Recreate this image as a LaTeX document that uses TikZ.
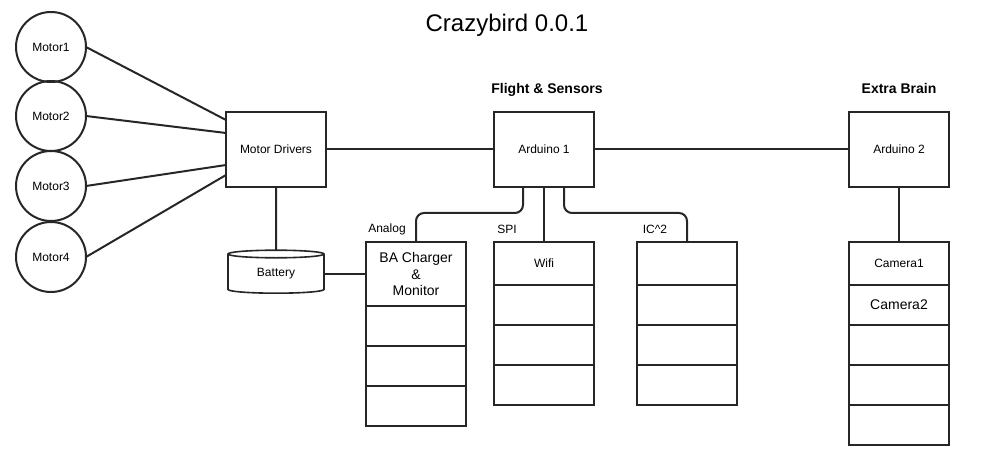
\documentclass[tikz,border=0pt]{standalone}
\usepackage{fontspec}
\setmainfont{Liberation Sans}
\usetikzlibrary{shapes.geometric}
\tikzset{
  box/.style={draw=black!85, line width=2pt, rectangle, minimum width=100pt, minimum height=75pt, inner sep=0pt, outer sep=0pt, font=\fontsize{12}{14}\selectfont},
  slot/.style={box, anchor=north, minimum height=40pt},
  motor/.style={draw=black!85, line width=2pt, circle, minimum size=70pt, inner sep=0pt, outer sep=0pt, font=\fontsize{12}{14}\selectfont},
  batt/.style={draw=black!85, line width=1.6pt, cylinder, shape border rotate=90, aspect=0.2, minimum width=96pt, minimum height=43pt, inner sep=0pt, outer sep=0pt, font=\fontsize{12}{14}\selectfont},
  wire/.style={draw=black!85, line width=2pt},
  head/.style={anchor=base, font=\bfseries\fontsize{14}{16}\selectfont},
  bus/.style={font=\fontsize{12}{14}\selectfont}
}
\begin{document}
\begin{tikzpicture}[x=1pt,y=-1pt]
      \useasboundingbox (0,0) rectangle (985,465);
      \node[font=\fontsize{24}{28}\selectfont] (title) at (507,25) {Crazybird 0.0.1};
      \node[head] (flight) at (547,94) {Flight \& Sensors};
      \node[head] (extra) at (899,94) {Extra Brain};

      \foreach \i/\y in {1/47,2/116,3/186,4/257}
        \node[motor] (m\i) at (51,\y) {Motor\i};

      \node[box] (drv) at (276,149.5) {Motor Drivers};
      \node[box] (ard1) at (544,149.5) {Arduino 1};
      \node[box] (ard2) at (899,149.5) {Arduino 2};
      \node[batt] (batt) at (276,274) {Battery};

      \node[slot, minimum height=64pt, align=center, font=\fontsize{14}{16.5}\selectfont] (bac1) at (416,242) {BA Charger\\\&\\Monitor};
      \foreach \i/\y in {2/306,3/346,4/386}
        \node[slot] (bac\i) at (416,\y) {};
      \node[slot, minimum height=43pt] (wifi1) at (544,242) {Wifi};
      \node[slot, minimum height=43pt] (ic1) at (687,242) {};
      \foreach \i/\y in {2/285,3/325,4/365} {
        \node[slot] (wifi\i) at (544,\y) {};
        \node[slot] (ic\i) at (687,\y) {};
      }
      \node[slot, minimum height=43pt] (cam1) at (899,242) {Camera1};
      \node[slot, font=\fontsize{14}{16}\selectfont] (cam2) at (899,285) {Camera2};
      \foreach \i/\y in {3/325,4/365,5/405}
        \node[slot] (cam\i) at (899,\y) {};

      \node[bus] (analog) at (387,229) {Analog};
      \node[bus] (spi) at (507,229) {SPI};
      \node[bus] (ic) at (655,229) {IC\^{}2};

      \draw[wire] (m1.east) -- ([yshift=29.5pt]drv.west);
      \draw[wire] (m2.east) -- ([yshift=16.5pt]drv.west);
      \draw[wire] (m3.east) -- ([yshift=-15.5pt]drv.west);
      \draw[wire] (m4.east) -- ([yshift=-25.5pt]drv.west);
      \draw[wire] (drv.east) -- (ard1.west);
      \draw[wire] (ard1.east) -- (ard2.west);
      \draw[wire] (drv.south) -- (batt.north);
      \draw[wire] (batt.east) -- (batt.east -| bac1.west);
      \draw[wire, rounded corners=8pt] ([xshift=-21pt]ard1.south) -- ++(0,26) -| (bac1.north);
      \draw[wire] (ard1.south) -- (wifi1.north);
      \draw[wire, rounded corners=8pt] ([xshift=20pt]ard1.south) -- ++(0,26) -| (ic1.north);
      \draw[wire] (ard2.south) -- (cam1.north);
\end{tikzpicture}
\end{document}
